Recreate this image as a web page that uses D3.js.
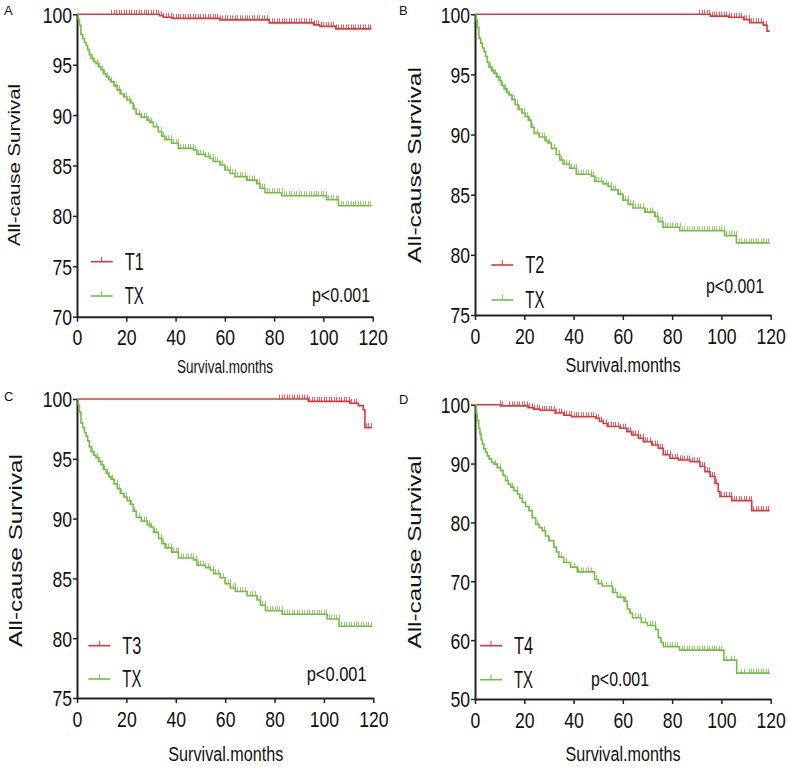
<!DOCTYPE html>
<html>
<head>
<meta charset="utf-8">
<script src="https://cdn.jsdelivr.net/npm/d3@7"></script>
<style>
  body { margin: 0; background: #fff; }
  svg text { font-family: "Liberation Sans", Arial, sans-serif; fill: #111; }
</style>
</head>
<body>
<div id="chart"></div>
<script>
// x ticks shared by all four panels
const monthTicks = [0, 20, 40, 60, 80, 100, 120]
const yTicksA = [70, 75, 80, 85, 90, 95, 100]
const yTicksBC = [75, 80, 85, 90, 95, 100]
const yTicksD = [50, 60, 70, 80, 90, 100]

// Kaplan-Meier steps [month, survival %]; last point = end of follow-up
const txSteps = [[0,100],[0.5,99.5],[1,98.9],[1.6,98.0],[2.3,97.6],[3,97.2],[3.7,96.9],[4.3,96.5],[5,96.0],[5.7,95.6],
  [6.7,95.3],[7.7,95.1],[8.7,94.8],[9.7,94.5],[10.7,94.1],[11.8,93.8],[12.8,93.5],[13.8,93.3],[15,92.9],[16.3,92.5],
  [17.5,92.1],[19,91.8],[20.3,91.5],[21.6,91.2],[22.8,90.6],[24,90.1],[26,89.8],[28.4,89.5],[29.6,89.3],[31,88.85],
  [33,88.35],[34.4,87.9],[35.7,87.55],[38.4,87.2],[41.1,86.7],[47.2,86.55],[48.6,86.1],[52,85.9],[54,85.7],[55.3,85.4],
  [58,85.05],[60,84.55],[62.1,84.2],[64.1,83.9],[68.9,83.55],[72.9,83.2],[74.3,82.75],[76.3,82.3],[83.1,82.0],[101.3,81.6],
  [106.1,81.0],[119.6,81.0]]
const txCensor = [6,7,8,9,10,11,12,13,14,15,16,17,18,19,20,21,22,23,24,25,26,27,28,29,30,31,32,33,34,35,36,37,38,39,40,
  41,42,43,44,45,46,47,48,49,50,51,52,53,54,55,56,57,58,59,60,61,62,63,64,65,66,67,68,69,70,71,72,73,74,75,76,77,78,79,80,
  81,82,83,84,85,86,87,88,89,90,91,92,93,94,95,96,97,98,99,100,101,102,103,104,105,106,107,108,109,110,111,112,113,114,
  115,116,117,118,119]

const t1Steps = [[0,100],[33.5,99.85],[35,99.7],[38.5,99.6],[58,99.45],[78,99.15],[96,98.95],[98.5,98.8],[105,98.55],[119.5,98.55]]
const t1Censor = [14,15,16,17,18,19,20,21,22,23,24,25,26,27,28,29,30,31,32,33,34,35,36,37,38,39,40,41,42,43,44,45,46,47,
  48,49,50,51,52,53,54,55,56,57,58,59,60,61,62,63,64,65,66,67,68,69,70,71,72,73,74,75,76,77,78,79,80,81,82,83,84,85,86,87,
  88,89,90,91,92,93,94,95,96,97,98,99,100,101,102,103,104,105,106,107,108,109,110,111,112,113,114,115,116,117,118,119]

const t2Steps = [[0,100],[95.5,99.85],[103,99.75],[109,99.55],[111.5,99.3],[117,99.1],[118.5,98.6],[119.6,98.6]]
const t2Censor = [91,92,93,94,95,96,97,98,99,100,101,102,103,104,105,106,107,108,109,110,111,112,113,114,115,116,117,118]

const t3Steps = [[0,100],[93.7,99.8],[110.5,99.65],[113.9,99.45],[115.9,99.1],[116.6,97.6],[119.4,97.6]]
const t3Censor = [82,83,84,85,86,87,88,89,90,91,92,93,94,95,96,97,98,99,100,101,102,103,104,105,106,107,108,109,110,
  111,112,113,117,118,119]

const t4Steps = [[0,100],[10.5,99.8],[21.5,99.5],[23.7,99.25],[26.4,99.05],[32.5,98.6],[36,98.2],[39.2,97.95],[49,97.7],
  [50.5,97.2],[52,96.8],[53.7,96.3],[58.8,96.0],[61.6,95.4],[63.6,94.85],[66.3,94.3],[68.3,93.7],[71.7,93.15],[74.4,92.6],
  [76.4,91.5],[79.1,90.9],[82.5,90.6],[87.3,90.3],[91.3,89.5],[93.3,88.6],[95.4,87.8],[97.4,86.6],[98.7,85.2],[99.4,84.4],
  [104.2,83.7],[112.3,82.0],[119.6,82.0]]
const t4Censor = [10,11,14,15,16,17,18,19,20,21,22,23,24,25,26,27,28,29,30,31,32,33,34,35,36,37,38,39,40,41,42,43,44,45,
  46,47,48,49,50,51,52,53,54,55,56,57,58,59,60,61,62,63,64,65,66,67,68,69,70,71,72,73,74,75,76,77,78,79,80,81,82,83,84,85,
  86,87,88,89,90,91,92,93,94,95,96,97,98,100,101,102,103,104,105,106,107,108,109,110,111,112,113,114,115,116,117,118,119]

const txdSteps = [[0,100],[0.5,98.5],[0.9,97.3],[1.5,96],[2,95],[2.5,94],[3,93.3],[3.6,92.5],[4.3,91.9],[5,91.3],[5.7,90.8],
  [6.7,90.2],[7.7,89.9],[9,89.3],[10.4,88.8],[11.4,88],[12.4,87.1],[13.5,86.5],[14.5,86.0],[15.8,85.4],[17.2,84.8],
  [18.2,84.1],[19.2,83.4],[20.5,82.7],[21.9,82.0],[23.2,80.8],[24.6,79.7],[26,79.1],[27.3,78.6],[28.6,77.7],[30,76.9],
  [32,75.8],[33,75],[34,74.1],[36,73.2],[38.8,72.4],[41.5,71.6],[48.5,70.3],[50,69.6],[51.7,69.2],[55.8,68.1],[57.8,67.3],
  [60.5,66.6],[61.8,65.3],[62.8,64.6],[63.9,63.8],[67.5,63.0],[70,62.5],[73.3,61.8],[74.4,60.4],[75.5,59.6],[76.4,58.9],
  [83,58.3],[101,56.6],[106.2,54.4],[119.6,54.4]]
const txdCensor = [8,10,13,15,17,19,22,25,28,30,33,35,37,40,42,43,44,45,46,47,49,51,53,55,56,57,59,61,63,65,66,67,69,71,
  72,73,77,78,79,80,81,82,84,85,86,87,88,89,90,91,92,93,94,95,96,97,98,99,100,102,104,105,108,109,111,112,113,114,115,
  116,117,118,119]

const RED = '#e0363a'
const GREEN = '#74bd45'
const NARROW = 0.8  // reference uses a condensed face; squeeze Liberation Sans

const panels = [
  {letter: 'A', lx: 4, ly: 15, x0: 77, x1: 372.7, yTop: 14.3, yBot: 316.7, yTicks: yTicksA,
   red: t1Steps, redCensor: t1Censor, green: txSteps, greenCensor: txCensor, redName: 'T1',
   yl: {x: 20, y: 165, len: 162, size: 16}, xl: {x: 225, y: 372.7, len: 96, size: 18},
   leg: {x: 90.7, y1: 261.7, y2: 296}, p: {x: 370, y: 301.7, len: 58}},
  {letter: 'B', lx: 399, ly: 15, x0: 475, x1: 770.7, yTop: 14.3, yBot: 315, yTicks: yTicksBC,
   red: t2Steps, redCensor: t2Censor, green: txSteps, greenCensor: txCensor, redName: 'T2',
   yl: {x: 420.7, y: 165, len: 196, size: 19}, xl: {x: 623, y: 371.7, len: 115, size: 20},
   leg: {x: 491.3, y1: 265, y2: 300}, p: {x: 764, y: 293.3, len: 58}},
  {letter: 'C', lx: 4, ly: 401, x0: 77, x1: 373.3, yTop: 399, yBot: 698, yTicks: yTicksBC,
   red: t3Steps, redCensor: t3Censor, green: txSteps, greenCensor: txCensor, redName: 'T3',
   yl: {x: 21.7, y: 550.5, len: 193, size: 19}, xl: {x: 225.8, y: 760.7, len: 115, size: 20},
   leg: {x: 88.3, y1: 645.7, y2: 679}, p: {x: 366.7, y: 680.7, len: 60}},
  {letter: 'D', lx: 399, ly: 404, x0: 475, x1: 770.7, yTop: 404.7, yBot: 699, yTicks: yTicksD,
   red: t4Steps, redCensor: t4Censor, green: txdSteps, greenCensor: txdCensor, redName: 'T4',
   yl: {x: 420.7, y: 552, len: 193, size: 19}, xl: {x: 623, y: 760.7, len: 115, size: 20},
   leg: {x: 480, y1: 645.7, y2: 679.7}, p: {x: 649, y: 685.7, len: 58}}
]

const svg = d3.select('#chart').append('svg')
  .attr('width', 788)
  .attr('height', 769)

// survival value at time t from a step list
function survAt(steps, t) {
  let v = steps[0][1]
  for (const s of steps) { if (s[0] <= t) v = s[1] }
  return v
}

function drawCurve(g, x, y, steps, censor, color) {
  const line = d3.line()
    .x(d => x(d[0]))
    .y(d => y(d[1]))
    .curve(d3.curveStepAfter)
  g.append('path')
    .datum(steps)
    .attr('fill', 'none')
    .attr('stroke', color)
    .attr('stroke-width', 1.6)
    .attr('d', line)
  g.selectAll(null)
    .data(censor)
    .enter().append('line')
    .attr('x1', d => Math.round(x(d)) + 0.5)
    .attr('x2', d => Math.round(x(d)) + 0.5)
    .attr('y1', d => y(survAt(steps, d)))
    .attr('y2', d => y(survAt(steps, d)) - 4.5)
    .attr('stroke', color)
    .attr('stroke-opacity', 0.8)
    .attr('stroke-width', 1)
}

// condensed label with a fixed width
function squeezed(g, txt, x, y, size, len, anchor) {
  return g.append('text').text(txt)
    .attr('x', x).attr('y', y)
    .attr('text-anchor', anchor)
    .attr('font-size', size)
    .attr('textLength', len)
    .attr('lengthAdjust', 'spacingAndGlyphs')
}

panels.forEach(p => {
  const x = d3.scaleLinear().domain([0, 120]).range([p.x0, p.x1])
  const yMin = p.yTicks[0]
  const y = d3.scaleLinear().domain([yMin, 100]).range([p.yBot, p.yTop])
  const g = svg.append('g')

  g.append('text').text(p.letter)
    .attr('x', p.lx).attr('y', p.ly)
    .attr('font-size', 13)

  const xAxis = g.append('g')
    .attr('transform', `translate(0,${p.yBot})`)
    .call(d3.axisBottom(x).tickValues(monthTicks).tickSize(5).tickSizeOuter(0))
  const yAxis = g.append('g')
    .attr('transform', `translate(${p.x0},0)`)
    .call(d3.axisLeft(y).tickValues(p.yTicks).tickSize(4).tickSizeOuter(0))
  ;[xAxis, yAxis].forEach(a => {
    a.attr('font-family', null).attr('font-size', null)
    a.select('.domain').attr('stroke', '#222').attr('stroke-width', 2)
    a.selectAll('.tick line').attr('stroke', '#222').attr('stroke-width', 1.5)
    a.selectAll('.tick text').attr('font-size', 22).attr('fill', '#111')
      .attr('transform', `scale(${NARROW},1)`)
  })
  xAxis.selectAll('.tick text').attr('y', 13).attr('dy', '0.71em')
  yAxis.selectAll('.tick text').attr('x', -5 / NARROW).attr('dy', '0.36em')

  drawCurve(g, x, y, p.red, p.redCensor, RED)
  drawCurve(g, x, y, p.green, p.greenCensor, GREEN)

  // axis titles
  g.append('text').text('All-cause Survival')
    .attr('transform', `translate(${p.yl.x},${p.yl.y}) rotate(-90)`)
    .attr('text-anchor', 'middle')
    .attr('font-size', p.yl.size)
    .attr('textLength', p.yl.len)
    .attr('lengthAdjust', 'spacingAndGlyphs')
  squeezed(g, 'Survival.months', p.xl.x, p.xl.y, p.xl.size, p.xl.len, 'middle')

  // legend
  const legend = [[p.redName, RED, p.leg.y1], ['TX', GREEN, p.leg.y2]]
  legend.forEach(([name, color, ly]) => {
    g.append('line').attr('x1', p.leg.x).attr('x2', p.leg.x + 22)
      .attr('y1', ly).attr('y2', ly)
      .attr('stroke', color).attr('stroke-width', 1.6)
    g.append('line').attr('x1', p.leg.x + 11).attr('x2', p.leg.x + 11)
      .attr('y1', ly).attr('y2', ly - 5)
      .attr('stroke', color).attr('stroke-width', 1)
    squeezed(g, name, p.leg.x + 34, ly + 8, 23, 19, 'start')
  })

  squeezed(g, 'p<0.001', p.p.x, p.p.y, 21, p.p.len, 'end')
})
</script>
</body>
</html>
